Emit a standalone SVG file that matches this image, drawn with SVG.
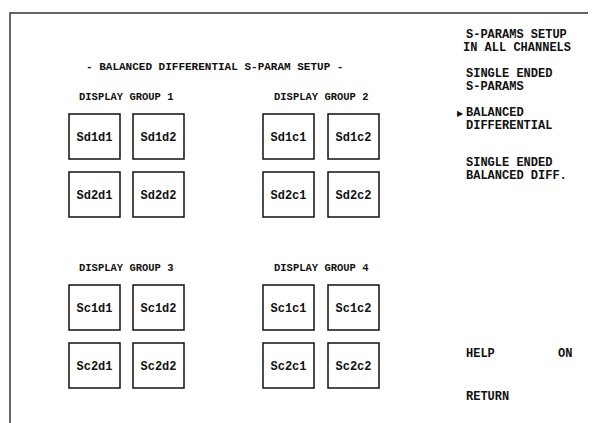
<svg xmlns="http://www.w3.org/2000/svg" width="593" height="423" viewBox="0 0 593 423">
<style>
.frame{fill:none;stroke:#333;stroke-width:1.5}
.box rect{fill:#fff;stroke:#111;stroke-width:1.5}
.box text{font-family:"Liberation Mono","DejaVu Sans Mono",monospace;font-size:12px;font-weight:bold;fill:#111;text-anchor:middle}
.title{font-family:"Liberation Mono","DejaVu Sans Mono",monospace;font-size:11px;font-weight:bold;fill:#111}
.grp{font-family:"Liberation Mono","DejaVu Sans Mono",monospace;font-size:10.5px;font-weight:bold;fill:#111}
.menu{font-family:"Liberation Mono","DejaVu Sans Mono",monospace;font-size:12px;font-weight:bold;fill:#111}
</style>
<rect width="593" height="423" fill="#fff"/>
<path class="frame" d="M10,423 V13 H588"/>
<text class="title" x="86" y="70">- BALANCED DIFFERENTIAL S-PARAM SETUP -</text>
<text class="grp" x="79" y="100">DISPLAY GROUP 1</text>
<text class="grp" x="274" y="100">DISPLAY GROUP 2</text>
<text class="grp" x="79" y="271">DISPLAY GROUP 3</text>
<text class="grp" x="274" y="271">DISPLAY GROUP 4</text>
<g id="Sd1d1" class="box"><rect x="69" y="114" width="51" height="45"/><text x="94.5" y="141">Sd1d1</text></g>
<g id="Sd1d2" class="box"><rect x="133" y="114" width="51" height="45"/><text x="158.5" y="141">Sd1d2</text></g>
<g id="Sd2d1" class="box"><rect x="69" y="172" width="51" height="45"/><text x="94.5" y="199">Sd2d1</text></g>
<g id="Sd2d2" class="box"><rect x="133" y="172" width="51" height="45"/><text x="158.5" y="199">Sd2d2</text></g>
<g id="Sd1c1" class="box"><rect x="263" y="114" width="51" height="45"/><text x="288.5" y="141">Sd1c1</text></g>
<g id="Sd1c2" class="box"><rect x="328" y="114" width="51" height="45"/><text x="353.5" y="141">Sd1c2</text></g>
<g id="Sd2c1" class="box"><rect x="263" y="172" width="51" height="45"/><text x="288.5" y="199">Sd2c1</text></g>
<g id="Sd2c2" class="box"><rect x="328" y="172" width="51" height="45"/><text x="353.5" y="199">Sd2c2</text></g>
<g id="Sc1d1" class="box"><rect x="69" y="285" width="51" height="45"/><text x="94.5" y="312">Sc1d1</text></g>
<g id="Sc1d2" class="box"><rect x="133" y="285" width="51" height="45"/><text x="158.5" y="312">Sc1d2</text></g>
<g id="Sc2d1" class="box"><rect x="69" y="343" width="51" height="45"/><text x="94.5" y="370">Sc2d1</text></g>
<g id="Sc2d2" class="box"><rect x="133" y="343" width="51" height="45"/><text x="158.5" y="370">Sc2d2</text></g>
<g id="Sc1c1" class="box"><rect x="263" y="285" width="51" height="45"/><text x="288.5" y="312">Sc1c1</text></g>
<g id="Sc1c2" class="box"><rect x="328" y="285" width="51" height="45"/><text x="353.5" y="312">Sc1c2</text></g>
<g id="Sc2c1" class="box"><rect x="263" y="343" width="51" height="45"/><text x="288.5" y="370">Sc2c1</text></g>
<g id="Sc2c2" class="box"><rect x="328" y="343" width="51" height="45"/><text x="353.5" y="370">Sc2c2</text></g>
<g id="menu">
<text class="menu" x="466" y="38">S-PARAMS SETUP</text>
<text class="menu" x="463" y="51">IN ALL CHANNELS</text>
<text class="menu" x="466" y="77">SINGLE ENDED</text>
<text class="menu" x="466" y="90">S-PARAMS</text>
<text class="menu" x="457" y="116"><tspan font-family="DejaVu Sans,sans-serif" font-size="8">▶</tspan><tspan x="466">BALANCED</tspan></text>
<text class="menu" x="466" y="129">DIFFERENTIAL</text>
<text class="menu" x="466" y="166">SINGLE ENDED</text>
<text class="menu" x="466" y="179">BALANCED DIFF.</text>
<text class="menu" x="466" y="357">HELP</text>
<text class="menu" x="558" y="357">ON</text>
<text class="menu" x="466" y="400">RETURN</text>
</g>
</svg>
